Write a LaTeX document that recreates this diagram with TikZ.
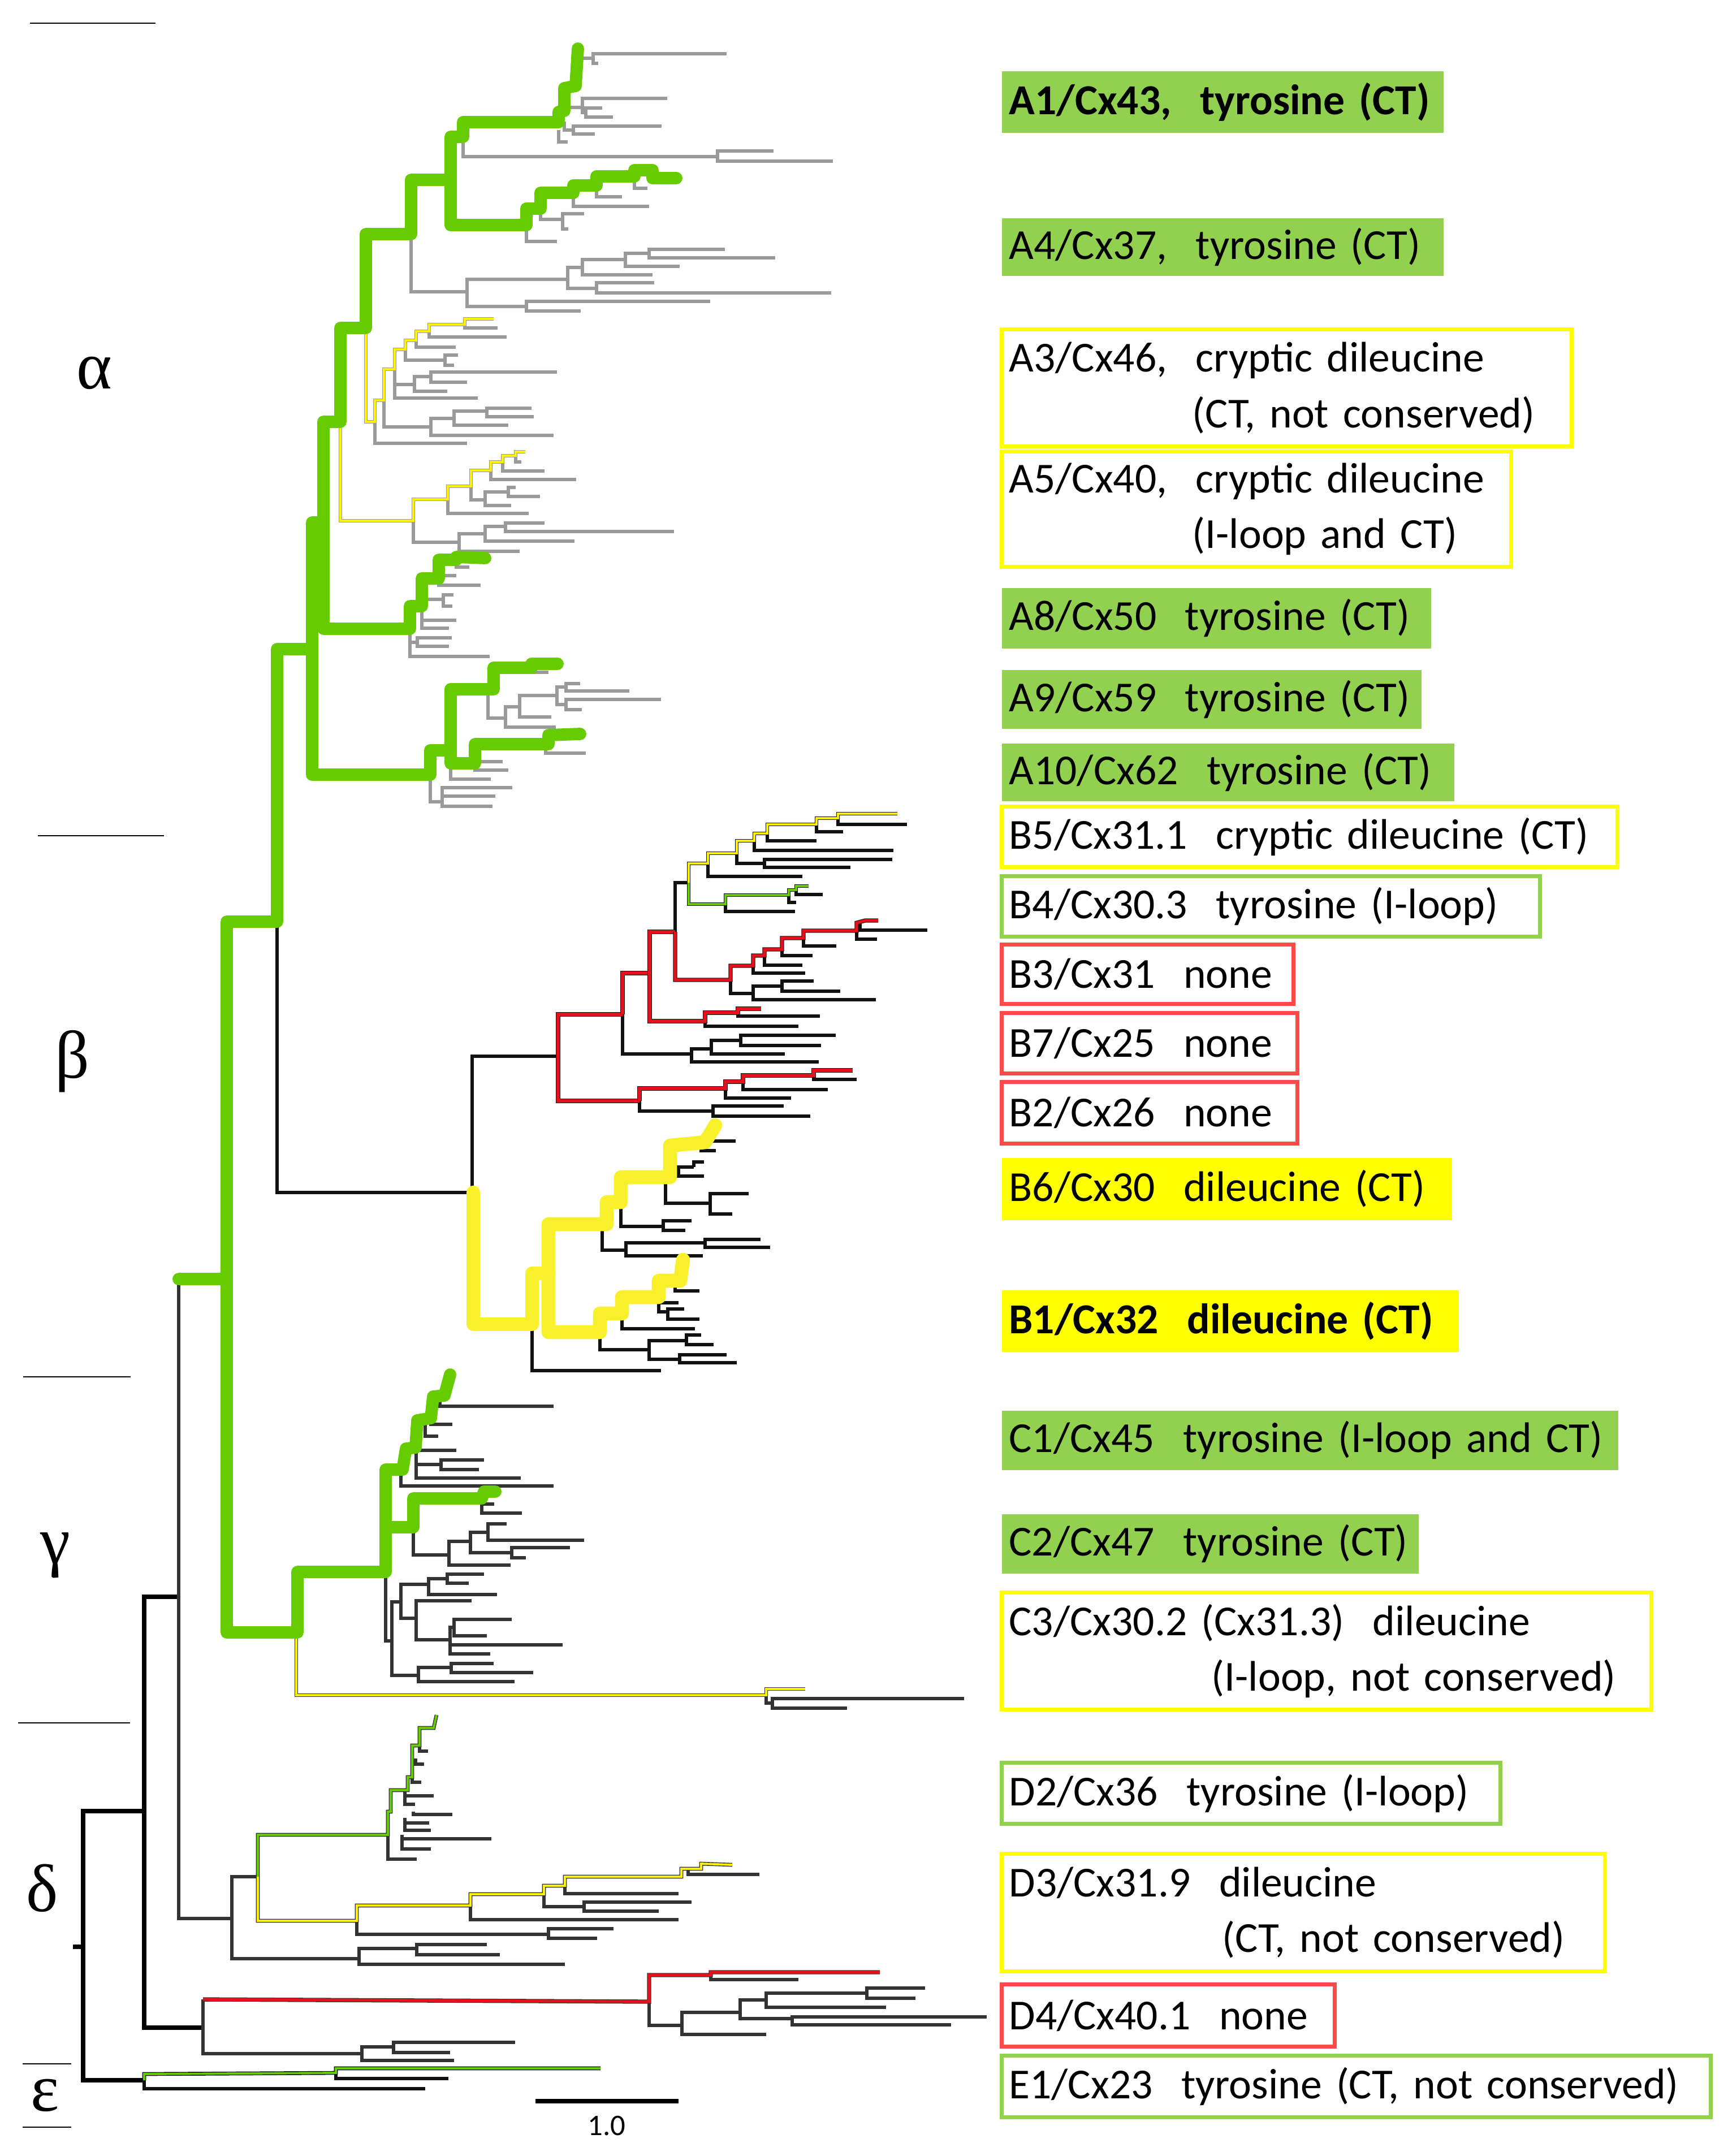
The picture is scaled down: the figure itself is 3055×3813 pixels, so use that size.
\documentclass[tikz,border=0pt]{standalone}
\usepackage{fontspec}
\newfontfamily\lblfont{Carlito}
\newfontfamily\grkfont{Liberation Serif}

\definecolor{treegreen}{HTML}{66CC00}
\definecolor{treeyellow}{HTML}{F8F02A}
\definecolor{ythin}{HTML}{FFF200}
\definecolor{treered}{HTML}{E8101A}
\definecolor{treegray}{HTML}{9A9A9A}
\definecolor{treeblack}{HTML}{111111}
\definecolor{treedark}{HTML}{333333}
\definecolor{lblgreen}{HTML}{92D050}
\definecolor{lblyellow}{HTML}{FFFF00}
\definecolor{lblred}{HTML}{FF4A4A}

\newcommand{\lblfnt}{\lblfont\fontsize{21.5}{28}\selectfont}
\newcommand{\grkfnt}{\grkfont\fontsize{34}{40}\selectfont}

\tikzset{
  sepln/.style={line width=0.8pt},
  gry/.style={draw=treegray, line width=1.8pt},
  blk/.style={draw=treeblack, line width=1.9pt},
  drk/.style={draw=treedark, line width=1.8pt},
  rootln/.style={draw=black, line width=2.2pt},
  grn/.style={draw=treegreen, line width=6.2pt, line cap=round, line join=round},
  ylw/.style={draw=treeyellow, line width=7pt, line cap=round, line join=round},
  ovl/.style={line width=1.1pt, preaction={draw=#1, line width=1.9pt}},
  ylwg/.style={draw=ythin, ovl=treegray},
  ylwb/.style={draw=ythin, ovl=treeblack},
  ylwd/.style={draw=ythin, ovl=treedark},
  grnb/.style={draw=treegreen, ovl=treeblack},
  grnd/.style={draw=treegreen, ovl=treedark},
  redb/.style={draw=treered, line width=1.5pt, preaction={draw=treeblack, line width=2.1pt}},
  redd/.style={draw=treered, line width=1.5pt, preaction={draw=treedark, line width=2.1pt}},
  lbl/.style={anchor=north west, inner xsep=0.13cm, inner ysep=0pt, align=left, font=\lblfnt, line width=2pt},
  gfill/.style={lbl, fill=lblgreen},
  yfill/.style={lbl, fill=lblyellow},
  gbox/.style={lbl, draw=lblgreen},
  ybox/.style={lbl, draw=lblyellow},
  rbox/.style={lbl, draw=lblred},
  grk/.style={font=\grkfnt, inner sep=0pt}
}

\begin{document}
\begin{tikzpicture}[x=0.01cm, y=-0.01cm]
  \useasboundingbox (0,0) rectangle (3055,3813);

  % Separators and class names
  \foreach \xa/\xb/\yy in {53/275/41, 67/290/1478, 41/231/2435, 32/230/3047, 40/126/3650, 40/126/3762}
    \draw[sepln] (\xa,\yy) -- (\xb,\yy);
  \node[grk] (alpha) at (167,660) {α};
  \node[grk] (beta) at (128,1877) {β};
  \node[grk] (gamma) at (98,2751) {γ};
  \node[grk] (delta) at (75,3339) {δ};
  \node[grk] (eps) at (80,3706) {ε};

  % Alpha: grey branches
  \foreach \px/\py/\qx/\qy in {1020/103/1049/103, 1049/103/1285/95, 1049/103/1058/112,
      1004/190/1030/190, 1030/190/1180/174, 1030/190/1036/199, 1036/199/1065/191, 1036/199/1084/207,
      998/215/1014/230, 1014/230/1170/223, 1014/230/1052/237, 988/230/1004/251,
      819/242/1269/277, 1269/276/1368/267, 1269/276/1473/285}
    \draw[gry] (\px,\py) |- (\qx,\qy);
  \foreach \px/\py/\qx/\qy in {1122/312/1145/333, 1055/328/1100/348, 1014/341/1148/365, 956/369/995/388,
      995/388/1033/378, 995/388/1005/405, 931/398/985/427,
      727/414/826/516, 826/516/1004/494, 826/516/931/542, 1004/494/1030/473, 1004/494/1055/510,
      1030/473/1106/459, 1030/473/1154/486, 1106/459/1148/448, 1106/459/1202/471, 1148/448/1282/441,
      1148/448/1371/456, 1055/510/1157/500, 1055/510/1470/518, 931/542/1256/533, 931/542/1027/550}
    \draw[gry] (\px,\py) |- (\qx,\qy);
  \foreach \px/\py/\qx/\qy in {822/574/880/580, 759/586/896/596, 736/602/806/614, 717/618/787/637,
      787/637/810/628, 787/637/803/646, 698/653/845/704, 698/680/733/680, 733/680/762/666,
      762/666/985/658, 762/666/826/676, 733/680/791/692, 679/708/762/755, 762/755/803/740,
      803/740/861/727, 861/727/940/722, 861/727/944/737, 803/740/899/752, 762/755/979/770, 663/746/826/784}
    \draw[gry] (\px,\py) |- (\qx,\qy);
  \foreach \px/\py/\qx/\qy in {912/806/922/817, 889/817/963/833, 868/832/1019/848, 833/860/858/884,
      858/884/899/870, 899/870/912/862, 899/870/955/878, 858/884/904/894, 792/883/935/908,
      731/921/812/959, 812/959/858/944, 858/944/894/931, 894/931/963/925, 894/931/1192/940,
      858/944/1016/957, 812/959/919/975}
    \draw[gry] (\px,\py) |- (\qx,\qy);
  \foreach \px/\py/\qx/\qy in {807/987/830/1003, 776/990/807/1018, 776/1023/850/1035, 746/1023/784/1060,
      784/1060/802/1052, 784/1060/800/1072, 746/1072/807/1097, 746/1072/794/1111, 725/1112/738/1136,
      738/1136/799/1128, 738/1136/794/1143, 725/1112/866/1161,
      940/1181/970/1189, 863/1219/894/1270, 894/1270/919/1250, 894/1270/983/1286, 919/1250/985/1230,
      919/1250/975/1268, 985/1230/1001/1215, 1001/1215/1026/1209, 1001/1215/1113/1222, 985/1230/1001/1246,
      1001/1246/1169/1237, 1001/1246/1029/1255,
      965/1316/1036/1332, 840/1352/889/1347, 840/1352/899/1362, 797/1350/868/1378, 761/1370/782/1418,
      782/1418/906/1393, 782/1418/876/1408, 782/1418/871/1426}
    \draw[gry] (\px,\py) |- (\qx,\qy);

  % Alpha: A3 and A5
  \draw[ylwg] (647,580) -- (647,746) -- (663,746) -- (663,708) -- (679,708) -- (679,653) -- (698,653)
    -- (698,618) -- (717,618) -- (717,602) -- (736,602) -- (736,586) -- (759,586) -- (759,574)
    -- (822,574) -- (822,564) -- (873,564);
  \draw[ylwg] (602,746) -- (602,921) -- (731,921) -- (731,883) -- (792,883) -- (792,860) -- (833,860)
    -- (833,832) -- (868,832) -- (868,817) -- (889,817) -- (889,806) -- (912,806) -- (912,799) -- (929,799);

  % Beta: black branches
  \foreach \px/\py/\qx/\qy in {490/1636/835/2109, 835/2109/987/1868, 1101/1794/1223/1864,
      1194/1648/1218/1561, 941/2342/1169/2424,
      1482/1447/1604/1458, 1444/1458/1491/1471, 1357/1474/1444/1487, 1334/1487/1580/1504,
      1303/1509/1352/1527, 1352/1527/1578/1520, 1352/1527/1504/1534, 1252/1527/1419/1550,
      1408/1574/1455/1582, 1395/1583/1408/1596, 1283/1599/1406/1612}
    \draw[blk] (\px,\py) |- (\qx,\qy);
  \foreach \px/\py/\qx/\qy in {1521/1632/1640/1645, 1515/1646/1551/1661, 1421/1659/1479/1673,
      1383/1679/1437/1690, 1352/1690/1419/1707, 1332/1708/1424/1721, 1292/1733/1332/1757,
      1332/1757/1383/1744, 1383/1744/1439/1735, 1383/1744/1486/1753, 1332/1757/1549/1768,
      1305/1791/1450/1797, 1247/1806/1412/1815, 1223/1864/1258/1855, 1258/1855/1310/1840,
      1310/1840/1478/1831, 1310/1840/1452/1849, 1258/1855/1388/1864, 1223/1864/1448/1878,
      1439/1902/1515/1909, 1314/1913/1464/1927, 1283/1925/1399/1942, 1131/1947/1261/1965,
      1261/1965/1386/1956, 1261/1965/1433/1974}
    \draw[blk] (\px,\py) |- (\qx,\qy);
  \foreach \px/\py/\qx/\qy in {1240/2026/1301/2018, 1240/2026/1266/2035, 1185/2050/1200/2064,
      1200/2064/1227/2064, 1227/2064/1245/2055, 1200/2064/1245/2080, 1177/2082/1256/2128,
      1256/2128/1324/2111, 1256/2128/1295/2147, 1098/2126/1173/2169, 1173/2169/1223/2159,
      1173/2169/1212/2176, 1065/2165/1107/2211, 1107/2211/1247/2198, 1247/2198/1345/2192,
      1247/2198/1362/2206, 1107/2211/1243/2221,
      1194/2270/1237/2283, 1165/2294/1200/2304, 1165/2294/1181/2320, 1181/2320/1210/2315,
      1181/2320/1237/2333, 1100/2323/1229/2350, 1061/2356/1148/2387, 1148/2387/1214/2371,
      1214/2371/1240/2361, 1214/2371/1262/2378, 1148/2387/1202/2404, 1202/2404/1285/2396,
      1202/2404/1303/2410}
    \draw[blk] (\px,\py) |- (\qx,\qy);

  % Beta: coloured paths
  \foreach \px/\py/\qx/\qy in {987/1868/1101/1794, 987/1868/1131/1947, 1101/1794/1149/1721, 1149/1721/1194/1648}
    \draw[redb] (\px,\py) |- (\qx,\qy);
  \draw[redb] (1194,1648) -- (1194,1733) -- (1292,1733) -- (1292,1708) -- (1332,1708) -- (1332,1690)
    -- (1352,1690) -- (1352,1679) -- (1383,1679) -- (1383,1659) -- (1421,1659) -- (1421,1646)
    -- (1515,1646) -- (1515,1632) -- (1530,1628) -- (1553,1628);
  \draw[redb] (1149,1721) -- (1149,1806) -- (1247,1806) -- (1247,1791) -- (1305,1791) -- (1305,1784) -- (1346,1784);
  \draw[redb] (1131,1947) -- (1131,1925) -- (1283,1925) -- (1283,1913) -- (1314,1913) -- (1314,1902)
    -- (1439,1902) -- (1439,1893) -- (1508,1893);
  \draw[ylwb] (1218,1561) -- (1218,1527) -- (1252,1527) -- (1252,1509) -- (1303,1509) -- (1303,1487)
    -- (1334,1487) -- (1334,1474) -- (1357,1474) -- (1357,1458) -- (1444,1458) -- (1444,1447)
    -- (1482,1447) -- (1482,1439) -- (1587,1439);
  \draw[grnb] (1218,1561) -- (1218,1599) -- (1283,1599) -- (1283,1583) -- (1395,1583) -- (1395,1574)
    -- (1408,1574) -- (1408,1567) -- (1430,1567);
  \draw[ylw] (837,2109) -- (837,2342) -- (941,2342) -- (941,2252) -- (970,2252);
  \draw[ylw] (970,2252) -- (970,2165) -- (1073,2165) -- (1073,2126) -- (1098,2126) -- (1098,2082)
    -- (1185,2082) -- (1185,2026) -- (1247,2020) -- (1265,1990);
  \draw[ylw] (970,2252) -- (970,2356) -- (1061,2356) -- (1061,2323) -- (1100,2323) -- (1100,2294)
    -- (1165,2294) -- (1165,2265) -- (1203,2265) -- (1208,2228);

  % Gamma
  \foreach \px/\py/\qx/\qy in {682/2780/693/2902, 693/2902/709/2833, 709/2833/758/2802, 709/2833/736/2862,
      758/2802/791/2792, 758/2802/879/2820, 791/2792/856/2784, 791/2792/829/2800, 736/2862/834/2831,
      736/2862/796/2900, 796/2900/803/2878, 803/2878/905/2864, 803/2878/861/2893, 796/2900/995/2909,
      796/2900/867/2925, 693/2902/740/2963, 740/2963/798/2949, 798/2949/873/2942, 798/2949/943/2958,
      740/2963/910/2974,
      778/2468/979/2487, 762/2508/800/2519, 752/2512/775/2540, 740/2560/807/2565, 736/2560/780/2590,
      780/2590/856/2582, 780/2590/847/2599, 736/2560/921/2614, 709/2599/979/2628,
      852/2650/874/2660, 852/2650/923/2676, 731/2701/794/2750, 794/2750/832/2726, 832/2726/863/2710,
      863/2710/896/2695, 863/2710/1033/2724, 832/2726/905/2746, 905/2746/1008/2737, 905/2746/930/2755,
      794/2750/903/2768,
      1355/2998/1366/3012, 1366/3012/1705/3004, 1366/3012/1498/3021}
    \draw[drk] (\px,\py) |- (\qx,\qy);
  \draw[ylwd] (524,2895) -- (524,2998) -- (1355,2998) -- (1355,2987) -- (1424,2987);

  % Root, delta and epsilon
  \draw[rootln] (129,3443) -- (147,3443);
  \foreach \px/\py/\qx/\qy in {147/3443/255/3203, 147/3443/255/3679, 255/3203/316/2824, 255/3203/359/3586}
    \draw[rootln] (\px,\py) |- (\qx,\qy);
  \draw[drk] (316,2824) -- (316,2262);
  \foreach \px/\py/\qx/\qy in {316/2824/410/3393, 410/3393/456/3319, 410/3393/635/3464, 359/3586/359/3536,
      716/3166/767/3176, 716/3176/734/3191, 731/3204/800/3209, 716/3215/759/3224, 716/3224/762/3237,
      711/3245/869/3252, 711/3252/762/3270, 686/3245/737/3288, 742/3087/757/3097, 735/3110/750/3120,
      729/3145/745/3152,
      1217/3305/1343/3315, 999/3335/1200/3349, 962/3350/1033/3372, 1033/3372/1223/3364,
      1033/3372/1165/3380, 832/3370/1200/3395, 631/3397/970/3421, 970/3421/1085/3411,
      970/3421/1056/3428, 635/3464/737/3446, 737/3446/861/3439, 737/3446/884/3457, 635/3464/999/3474,
      1257/3493/1412/3501, 1148/3540/1206/3582, 1206/3582/1309/3559, 1309/3559/1355/3537,
      1355/3537/1533/3525, 1533/3525/1636/3516, 1533/3525/1619/3534, 1355/3537/1567/3550,
      1309/3559/1401/3570, 1401/3570/1745/3567, 1401/3570/1682/3581, 1206/3582/1355/3598,
      359/3586/640/3632, 640/3632/696/3620, 696/3620/911/3612, 696/3620/796/3630, 640/3632/803/3644}
    \draw[drk] (\px,\py) |- (\qx,\qy);
  \draw[grnd] (456,3319) -- (456,3245) -- (686,3245) -- (686,3204) -- (691,3204) -- (691,3166) -- (721,3166)
    -- (721,3143) -- (729,3143) -- (729,3087) -- (742,3087) -- (742,3056) -- (767,3056) -- (772,3033);
  \draw[ylwd] (456,3319) -- (456,3397) -- (631,3397) -- (631,3370) -- (832,3370) -- (832,3350) -- (962,3350)
    -- (962,3335) -- (999,3335) -- (999,3319) -- (1205,3319) -- (1205,3305) -- (1240,3305) -- (1240,3296) -- (1295,3298);
  \draw[redd] (359,3536) -- (1148,3540) -- (1148,3493) -- (1257,3493) -- (1257,3488) -- (1556,3488);
  \foreach \px/\py/\qx/\qy in {594/3666/793/3676, 255/3679/752/3694}
    \draw[blk] (\px,\py) |- (\qx,\qy);
  \draw[grnb] (255,3679) -- (255,3668) -- (594,3666) -- (594,3658) -- (1062,3658);

  % Green backbone
  \draw[grn] (316,2262) -- (401,2262) -- (401,1630) -- (490,1630) -- (490,1148) -- (552,1148) -- (552,924)
    -- (572,924) -- (572,746) -- (602,746) -- (602,580) -- (647,580) -- (647,414) -- (727,414) -- (727,318)
    -- (797,318) -- (797,242) -- (819,242) -- (819,216) -- (988,216) -- (988,198) -- (998,196) -- (998,156)
    -- (1018,152) -- (1022,86);
  \draw[grn] (797,318) -- (797,398) -- (931,398) -- (931,369) -- (956,369) -- (956,341) -- (1014,341)
    -- (1014,328) -- (1055,328) -- (1055,312) -- (1122,312) -- (1122,301) -- (1154,301) -- (1154,315) -- (1196,315);
  \draw[grn] (572,924) -- (572,1112) -- (725,1112) -- (725,1072) -- (746,1072) -- (746,1023) -- (776,1023)
    -- (776,990) -- (807,990) -- (807,985) -- (858,987);
  \draw[grn] (552,1148) -- (552,1370) -- (761,1370) -- (761,1327) -- (797,1327) -- (797,1219) -- (873,1219)
    -- (873,1181) -- (940,1181) -- (940,1174) -- (986,1174);
  \draw[grn] (797,1327) -- (797,1350) -- (840,1350) -- (840,1316) -- (970,1316) -- (970,1300) -- (1026,1298);
  \draw[grn] (401,2262) -- (401,2887) -- (526,2887) -- (526,2780) -- (682,2780) -- (682,2599) -- (712,2599)
    -- (718,2562) -- (735,2560) -- (738,2512) -- (762,2508) -- (766,2470) -- (786,2468) -- (796,2431);
  \draw[grn] (682,2701) -- (731,2701) -- (731,2650) -- (852,2650) -- (856,2638) -- (876,2638);

  % Scale bar
  \draw[line width=2.4pt] (947,3716) -- (1200,3716);
  \node[font=\lblfont\fontsize{15}{18}\selectfont] (scl) at (1073,3760) {1.0};

  % Labels
  \node[gfill, text width=7.55cm, minimum height=1.09cm] (a1) at (1768,122) {\mbox{\bfseries A1/Cx43,\ \ tyrosine (CT)}};
  \node[gfill, text width=7.55cm, minimum height=1.02cm] (a4) at (1768,382) {\mbox{A4/Cx37,\ \ tyrosine (CT)}};
  \node[ybox, text width=9.81cm, minimum height=2.07cm] (a3) at (1768,579) {\mbox{A3/Cx46,\ \ cryptic dileucine}\\\mbox{\hspace*{3.24cm}(CT, not conserved)}};
  \node[ybox, text width=8.74cm, minimum height=2.04cm] (a5) at (1768,795) {\mbox{A5/Cx40,\ \ cryptic dileucine}\\\mbox{\hspace*{3.24cm}(I-loop and CT)}};
  \node[gfill, text width=7.33cm, minimum height=1.07cm] (a8) at (1768,1036) {\mbox{A8/Cx50\ \ tyrosine (CT)}};
  \node[gfill, text width=7.16cm, minimum height=1.04cm] (a9) at (1768,1181) {\mbox{A9/Cx59\ \ tyrosine (CT)}};
  \node[gfill, text width=7.74cm, minimum height=1.02cm] (a10) at (1768,1311) {\mbox{A10/Cx62\ \ tyrosine (CT)}};
  \node[ybox, text width=10.62cm, minimum height=1.07cm] (b5) at (1768,1423) {\mbox{B5/Cx31.1\ \ cryptic dileucine (CT)}};
  \node[gbox, text width=9.25cm, minimum height=1.07cm] (b4) at (1768,1546) {\mbox{B4/Cx30.3\ \ tyrosine (I-loop)}};
  \node[rbox, text width=4.90cm, minimum height=1.05cm] (b3) at (1768,1667) {\mbox{B3/Cx31\ \ none}};
  \node[rbox, text width=4.97cm, minimum height=1.07cm] (b7) at (1768,1788) {\mbox{B7/Cx25\ \ none}};
  \node[rbox, text width=4.97cm, minimum height=1.09cm] (b2) at (1768,1910) {\mbox{B2/Cx26\ \ none}};
  \node[yfill, text width=7.70cm, minimum height=1.10cm] (b6) at (1768,2044) {\mbox{B6/Cx30\ \ dileucine (CT)}};
  \node[yfill, text width=7.82cm, minimum height=1.09cm] (b1) at (1768,2278) {\mbox{\bfseries B1/Cx32\ \ dileucine (CT)}};
  \node[gfill, text width=10.64cm, minimum height=1.05cm] (c1) at (1768,2491) {\mbox{C1/Cx45\ \ tyrosine (I-loop and CT)}};
  \node[gfill, text width=7.11cm, minimum height=1.05cm] (c2) at (1768,2674) {\mbox{C2/Cx47\ \ tyrosine (CT)}};
  \node[ybox, text width=11.22cm, minimum height=2.07cm] (c3) at (1768,2813) {\mbox{C3/Cx30.2 (Cx31.3)\ \ dileucine}\\\mbox{\hspace*{3.58cm}(I-loop, not conserved)}};
  \node[gbox, text width=8.55cm, minimum height=1.08cm] (d2) at (1768,3114) {\mbox{D2/Cx36\ \ tyrosine (I-loop)}};
  \node[ybox, text width=10.40cm, minimum height=2.08cm] (d3) at (1768,3275) {\mbox{D3/Cx31.9\ \ dileucine}\\\mbox{\hspace*{3.77cm}(CT, not conserved)}};
  \node[rbox, text width=5.63cm, minimum height=1.10cm] (d4) at (1768,3506) {\mbox{D4/Cx40.1\ \ none}};
  \node[gbox, text width=12.27cm, minimum height=1.09cm] (e1) at (1768,3632) {\mbox{E1/Cx23\ \ tyrosine (CT, not conserved)}};
\end{tikzpicture}
\end{document}
